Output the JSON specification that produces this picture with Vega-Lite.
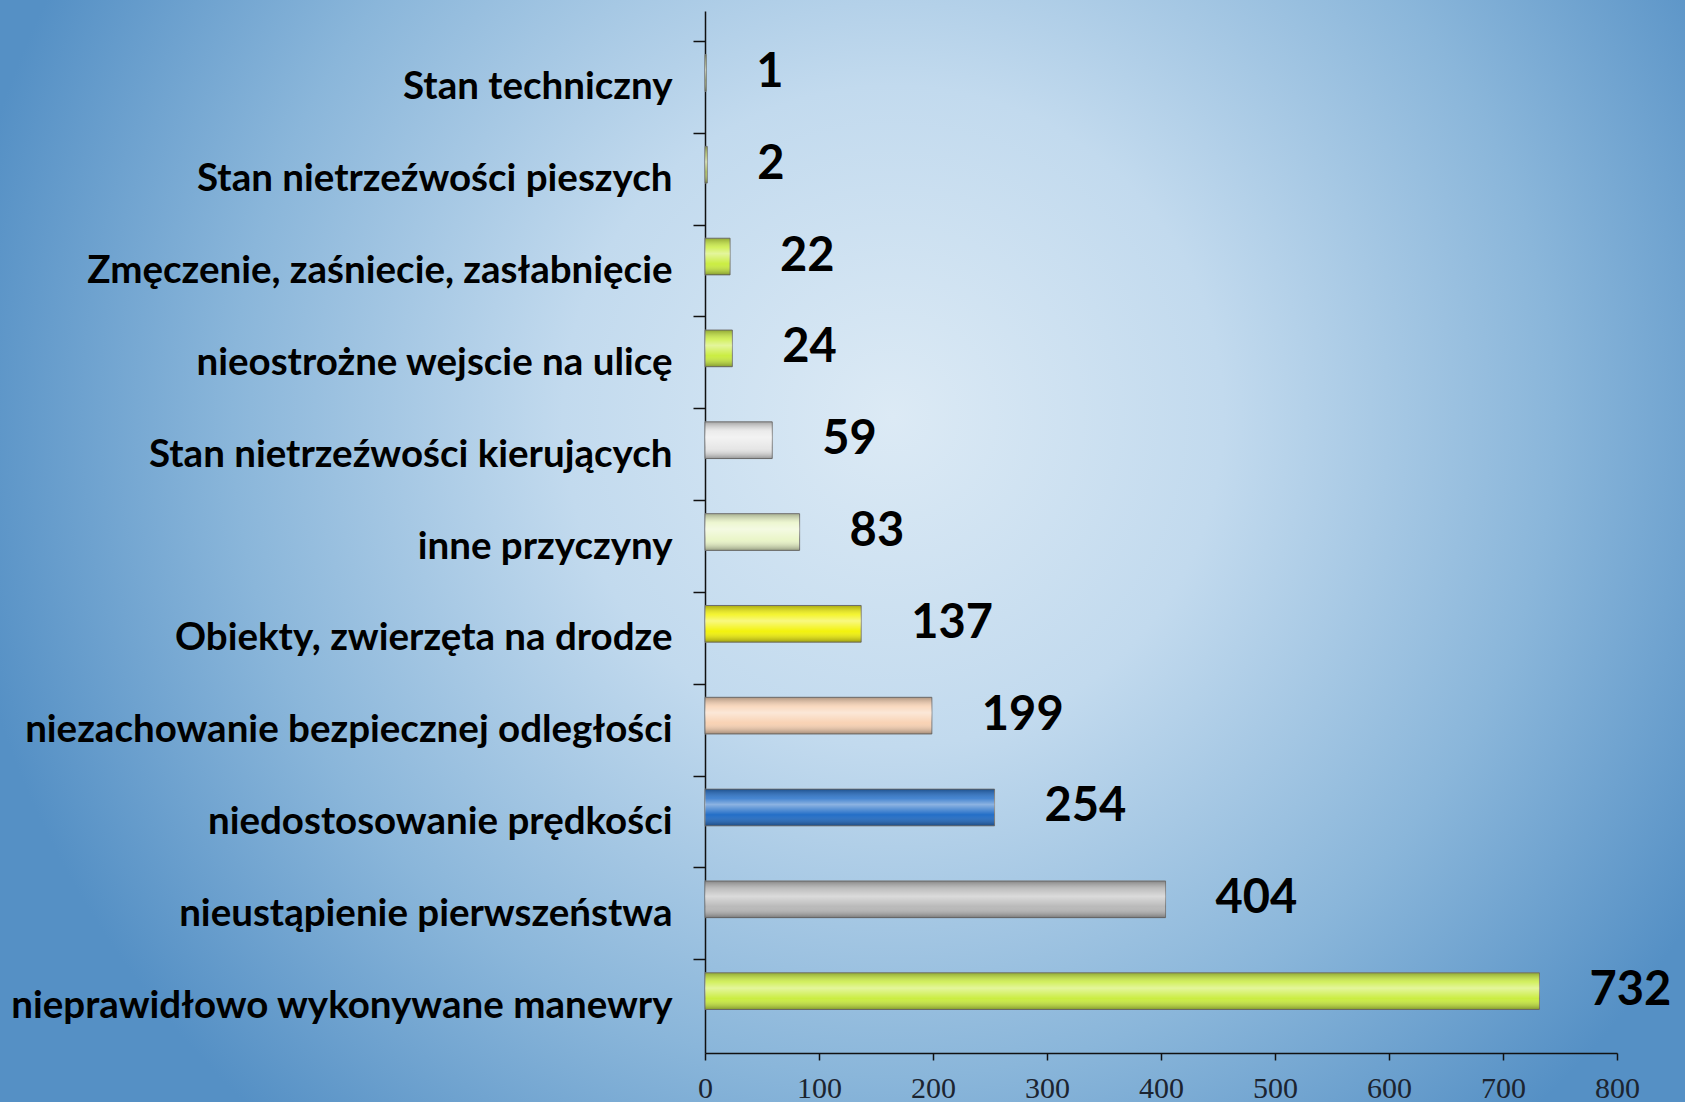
{
  "$schema": "https://vega.github.io/schema/vega-lite/v6.json",
  "width": 1685,
  "height": 1102,
  "autosize": {"type": "none"},
  "padding": 0,
  "background": "#80afd7",
  "view": {
    "stroke": null,
    "fill": {
      "gradient": "radial",
      "x1": 0.53, "y1": 0.42, "r1": 0,
      "x2": 0.53, "y2": 0.42, "r2": 0.56,
      "stops": [
        {"offset": 0, "color": "#dceaf5"},
        {"offset": 0.35, "color": "#c2daee"},
        {"offset": 0.7, "color": "#8ab6da"},
        {"offset": 1, "color": "#5590c5"}
      ]
    }
  },
  "data": {
    "values": [
      {"przyczyna": "Stan techniczny", "liczba": 1},
      {"przyczyna": "Stan nietrzeźwości pieszych", "liczba": 2},
      {"przyczyna": "Zmęczenie, zaśniecie, zasłabnięcie", "liczba": 22},
      {"przyczyna": "nieostrożne wejscie na ulicę", "liczba": 24},
      {"przyczyna": "Stan nietrzeźwości kierujących", "liczba": 59},
      {"przyczyna": "inne przyczyny", "liczba": 83},
      {"przyczyna": "Obiekty, zwierzęta na drodze", "liczba": 137},
      {"przyczyna": "niezachowanie bezpiecznej odległości", "liczba": 199},
      {"przyczyna": "niedostosowanie prędkości", "liczba": 254},
      {"przyczyna": "nieustąpienie pierwszeństwa", "liczba": 404},
      {"przyczyna": "nieprawidłowo wykonywane manewry", "liczba": 732}
    ]
  },
  "encoding": {
    "y": {
      "field": "przyczyna",
      "type": "nominal",
      "sort": null,
      "scale": {"range": [11, 1053], "paddingInner": 0.6, "paddingOuter": 0.474, "align": 0.661},
      "axis": {
        "title": null,
        "offset": -705,
        "tickOffset": -45.9,
        "labelOffset": 45.9,
        "tickSize": 12,
        "tickColor": "#111111",
        "tickWidth": 1.5,
        "domainColor": "#111111",
        "domainWidth": 1.5,
        "labelPadding": 21,
        "labelFont": "Lato",
        "labelFontWeight": "bold",
        "labelFontSize": 38.5,
        "labelColor": "#000000",
        "labelLimit": 800
      }
    }
  },
  "layer": [
    {
      "mark": {"type": "bar", "yOffset": -14, "stroke": "#7a7a7a", "strokeWidth": 1},
      "encoding": {
        "x": {
          "field": "liczba",
          "type": "quantitative",
          "scale": {"domain": [0, 800], "range": [705, 1617], "nice": false},
          "axis": {
            "title": null,
            "values": [0, 100, 200, 300, 400, 500, 600, 700, 800],
            "offset": -49,
            "domainColor": "#111111",
            "domainWidth": 1.5,
            "grid": false,
            "tickSize": 7,
            "tickColor": "#111111",
            "tickWidth": 1.5,
            "labelFlush": false,
            "labelPadding": 28,
            "labelBaseline": "middle",
            "labelFont": "Liberation Sans Narrow",
            "labelFontSize": 30,
            "labelColor": "#1c2430"
          }
        },
        "x2": {"datum": 0},
        "color": {
          "field": "przyczyna",
          "type": "nominal",
          "legend": null,
          "scale": {
            "domain": [
              "Stan techniczny",
              "Stan nietrzeźwości pieszych",
              "Zmęczenie, zaśniecie, zasłabnięcie",
              "nieostrożne wejscie na ulicę",
              "Stan nietrzeźwości kierujących",
              "inne przyczyny",
              "Obiekty, zwierzęta na drodze",
              "niezachowanie bezpiecznej odległości",
              "niedostosowanie prędkości",
              "nieustąpienie pierwszeństwa",
              "nieprawidłowo wykonywane manewry"
            ],
            "range": [
              "#b9cf55",
              "#b9cf55",
              "#c8ec38",
              "#c8ec38",
              "#e6e6e6",
              "#e9f5c6",
              "#f2f200",
              "#f8d0b0",
              "#1766c4",
              "#b6b6b6",
              "#c8ec38"
            ]
          }
        }
      }
    },
    {
      "mark": {
        "type": "bar",
        "yOffset": -14,
        "fill": {
          "gradient": "linear",
          "x1": 0, "y1": 0, "x2": 0, "y2": 1,
          "stops": [
            {"offset": 0, "color": "rgba(40,40,40,0.35)"},
            {"offset": 0.25, "color": "rgba(255,255,255,0.2)"},
            {"offset": 0.42, "color": "rgba(255,255,255,0.5)"},
            {"offset": 0.7, "color": "rgba(255,255,255,0.05)"},
            {"offset": 1, "color": "rgba(30,30,30,0.4)"}
          ]
        }
      },
      "encoding": {
        "x": {"field": "liczba", "type": "quantitative"},
        "x2": {"datum": 0}
      }
    },
    {
      "mark": {
        "type": "text",
        "align": "left",
        "baseline": "middle",
        "dx": 50,
        "yOffset": -14,
        "font": "Lato",
        "fontWeight": "bold",
        "fontSize": 47,
        "color": "#000000"
      },
      "encoding": {
        "x": {"field": "liczba", "type": "quantitative"},
        "text": {"field": "liczba", "type": "quantitative"}
      }
    }
  ]
}
